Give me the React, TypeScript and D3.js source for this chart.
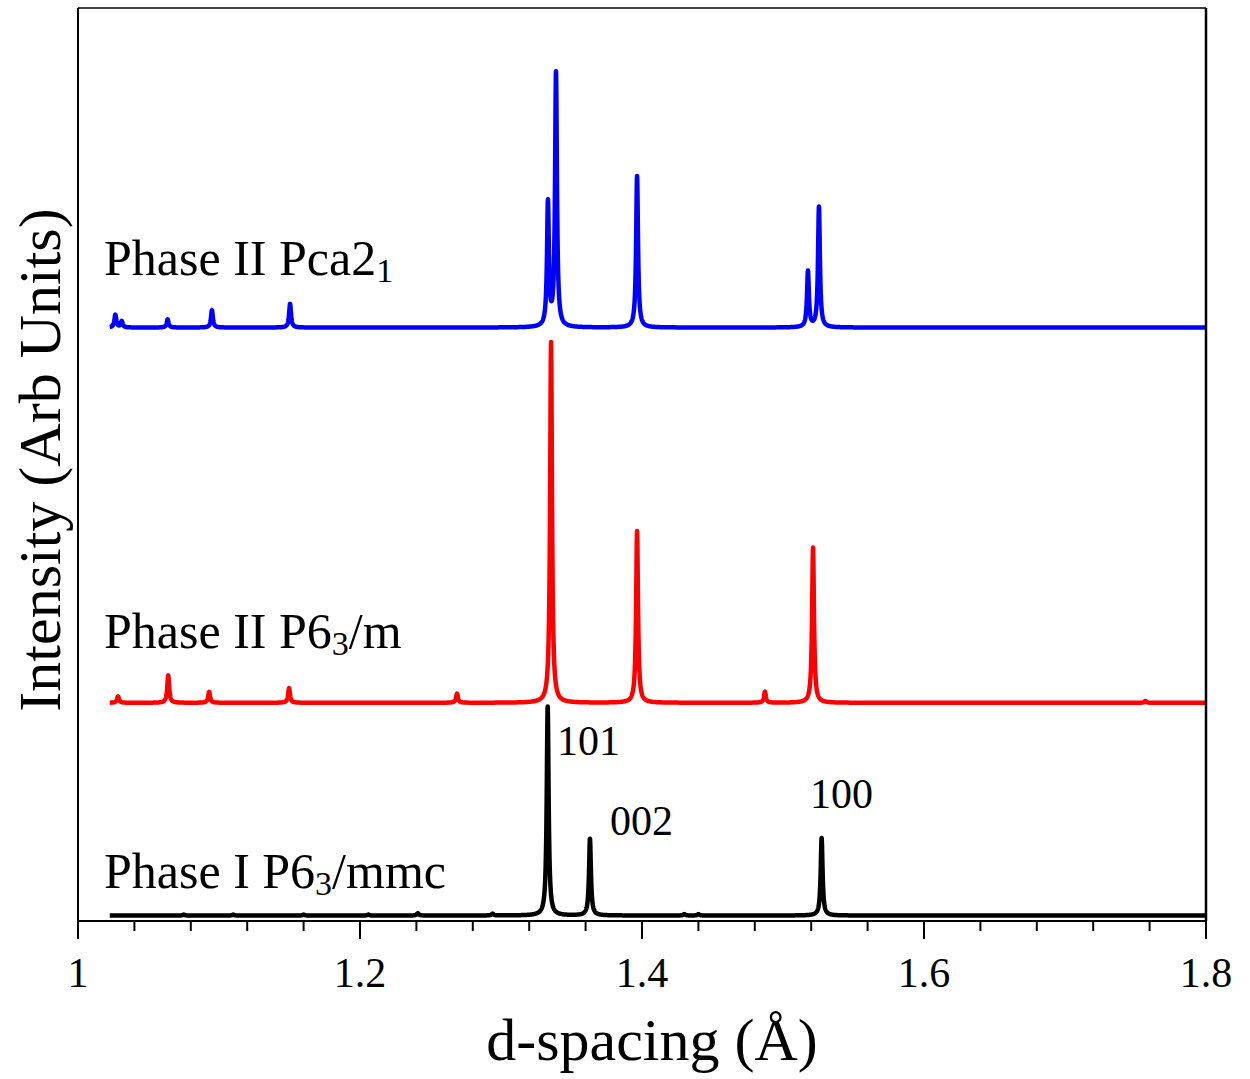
import React from 'react';
import * as d3 from 'd3';

// peak lists: d-spacing (Å) and height (arb units)
const blackPeakPos = [1.075, 1.11, 1.16, 1.206, 1.241, 1.294, 1.3331, 1.3631, 1.43, 1.44, 1.5274];
const blackPeakInt = [1, 1, 1, 1, 2.5, 2, 229, 84, 1.5, 1.5, 85];

const redPeakPos = [1.0284, 1.064, 1.093, 1.1497, 1.2688, 1.3355, 1.3965, 1.4872, 1.5213, 1.757];
const redPeakInt = [7, 30, 12, 16, 10, 395, 188, 12, 170, 2];

const bluePeakPos = [1.0265, 1.031, 1.0636, 1.095, 1.1504, 1.3333, 1.339, 1.3965, 1.5177, 1.5255];
const bluePeakInt = [14, 7, 9, 19, 26, 135, 278, 166, 61, 132];

const traceNames = ['Phase I P6₃/mmc', 'Phase II P6₃/m', 'Phase II Pca2₁'];
const traceOffsets = [6, 239, 650];
const traceColors = ['#000000', '#ff0000', '#0000ff'];

const xTicks = [1, 1.2, 1.4, 1.6, 1.8];
const hklLabels = ['101', '002', '100'];

const W = 1250;
const H = 1079;
const left = 78, right = 1206, top = 8, bottom = 921;
const gamma = 0.0008;
const font = "'Liberation Serif', 'Times New Roman', serif";

const x = d3.scaleLinear().domain([1, 1.8]).range([left, right]);
const y = d3.scaleLinear().domain([0, 1000]).range([bottom, top]);

// lorentzian profile summed over the peak list
function profile(pos: number[], amp: number[], offset: number) {
  const pts: [number, number][] = [];
  for (let d = 1.0225; d <= 1.8; d += 0.0001) {
    let v = offset;
    for (let i = 0; i < pos.length; i++) {
      const dx = d - pos[i];
      v += amp[i] * gamma * gamma / (dx * dx + gamma * gamma);
    }
    pts.push([d, v]);
  }
  return pts;
}

const line = d3.line<[number, number]>()
  .x(d => x(d[0]))
  .y(d => y(d[1]));

const App = () => {
  const series = [
    profile(blackPeakPos, blackPeakInt, traceOffsets[0]),
    profile(redPeakPos, redPeakInt, traceOffsets[1]),
    profile(bluePeakPos, bluePeakInt, traceOffsets[2]),
  ];
  const minorTicks = d3.range(0, 21).map(i => 1 + i * 0.04);

  const nameY = [888, 648, 275];

  return (
    <svg width={W} height={H} style={{ position: 'absolute', left: 0, top: 0, background: '#fff' }}
      fontFamily={font}>
      {series.map((s, i) => (
        <path key={i} d={line(s) || ''} fill="none" stroke={traceColors[i]} strokeWidth={4.5}
          strokeLinejoin="round" strokeLinecap="butt" />
      ))}

      {/* frame */}
      <line x1={left} x2={right} y1={top} y2={top} stroke="#000" strokeWidth={1.5} />
      <line x1={left} x2={left} y1={top} y2={bottom} stroke="#000" strokeWidth={2} />
      <line x1={right} x2={right} y1={top} y2={bottom} stroke="#000" strokeWidth={2.5} />
      <line x1={left - 1} x2={right + 1} y1={bottom} y2={bottom} stroke="#000" strokeWidth={2} />

      {minorTicks.map((t, i) => (
        <line key={'m' + i} x1={x(t)} x2={x(t)} y1={bottom} y2={bottom + 10} stroke="#000" strokeWidth={2} />
      ))}
      {xTicks.map(t => (
        <g key={t}>
          <line x1={x(t)} x2={x(t)} y1={bottom} y2={bottom + 18} stroke="#000" strokeWidth={2} />
          <text x={x(t)} y={987} fontSize={42} textAnchor="middle">{String(t)}</text>
        </g>
      ))}

      <text x={(left + right) / 2 + 10} y={1060} fontSize={60} textAnchor="middle">d-spacing (Å)</text>
      <text transform="translate(60,460) rotate(-90)" fontSize={60} textAnchor="middle">Intensity (Arb Units)</text>

      {traceNames.map((name, i) => {
        const m = name.match(/^(.*?)([₁₃])(.*)$/);
        const sub = m ? (m[2] === '₁' ? '1' : '3') : '';
        return (
          <text key={name} x={104} y={nameY[i]} fontSize={50}>
            {m ? m[1] : name}
            {m && <tspan dy={7} fontSize={34}>{sub}</tspan>}
            {m && m[3] && <tspan dy={-7}>{m[3]}</tspan>}
          </text>
        );
      })}

      <text x={557} y={755} fontSize={42}>{hklLabels[0]}</text>
      <text x={610} y={835} fontSize={42}>{hklLabels[1]}</text>
      <text x={810} y={808} fontSize={42}>{hklLabels[2]}</text>
    </svg>
  );
};

export default App;
